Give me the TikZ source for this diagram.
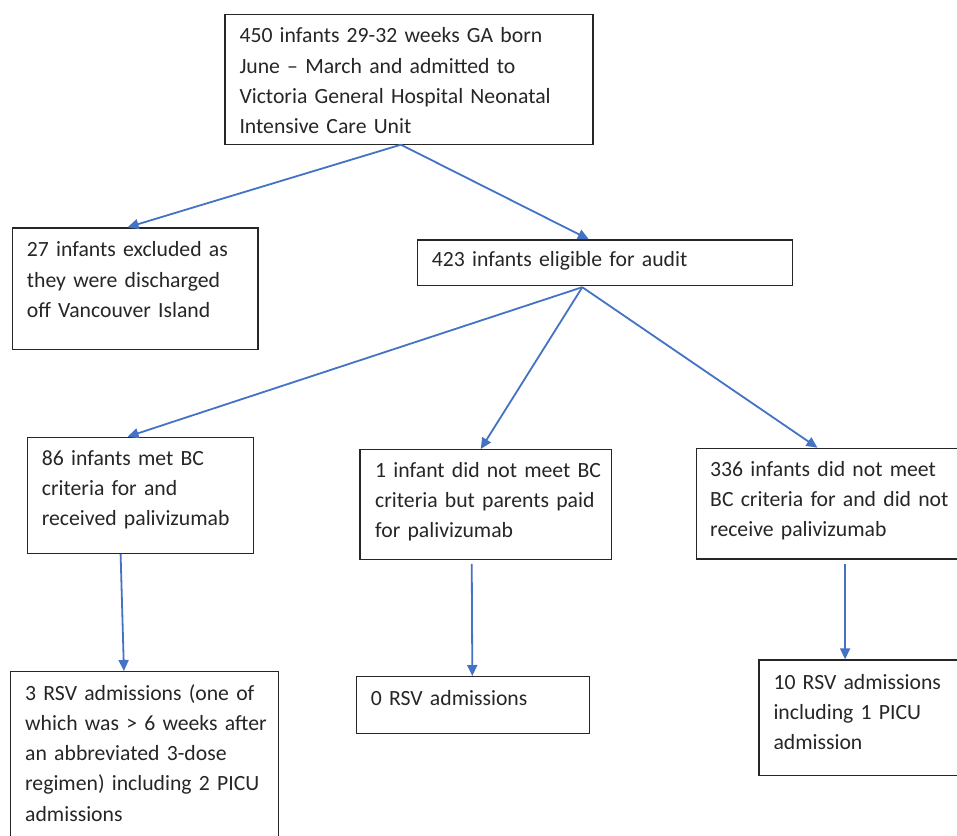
\documentclass[tikz,border=0pt]{standalone}
\usepackage{fontspec}
\setmainfont{Carlito}
\usetikzlibrary{arrows.meta,calc}
\definecolor{arrblue}{HTML}{4472C4}
\definecolor{ink}{HTML}{262626}
\begin{document}
\begin{tikzpicture}[x=1pt,y=-1pt,
  box/.style={draw=ink,line width=1.2pt,inner sep=0pt,anchor=north west},
  txt/.style={anchor=base west,inner sep=0pt,text width=#1,align=left,
    font=\fontsize{21.7}{30.3}\selectfont,text=ink},
  arr/.style={draw=arrblue,line width=1.8pt,-{Triangle[length=11pt,width=10pt]}}
]
\useasboundingbox (0,0) rectangle (957,835);
\fill[white] (0,0) rectangle (957,835);

% boxes
\node[box,minimum width=368pt,minimum height=129.5pt] (top) at (224.3,14) {};
\node[box,minimum width=245.6pt,minimum height=121.7pt] (excl) at (11.7,227.3) {};
\node[box,minimum width=375pt,minimum height=45.7pt] (elig) at (416.7,239.3) {};
\node[box,minimum width=226pt,minimum height=116pt] (A) at (26.5,436.7) {};
\node[box,minimum width=251.7pt,minimum height=109.7pt] (B) at (359.3,449) {};
\node[box,minimum width=260.7pt,minimum height=110.6pt] (C) at (696,447.7) {};
\node[box,minimum width=267.7pt,minimum height=180pt] (D) at (10,671) {};
\node[box,minimum width=233pt,minimum height=56.7pt] (E) at (355.7,676) {};
\node[box,minimum width=210pt,minimum height=115.7pt] (F) at (758.3,659.3) {};

% texts
\node[txt=360pt] (topt) at (239.3,42.7) {450 infants 29-32 weeks GA born\\June – March and admitted to\\Victoria General Hospital Neonatal\\Intensive Care Unit};
\node[txt=240pt] (exclt) at (26.7,256.7) {27 infants excluded as\\they were discharged\\off Vancouver Island};
\node[txt=360pt] (eligt) at (431.7,266.7) {423 infants eligible for audit};
\node[txt=220pt] (At) at (41.7,465) {86 infants met BC\\criteria for and\\received palivizumab};
\node[txt=250pt] (Bt) at (375,477) {1 infant did not meet BC\\criteria but parents paid\\for palivizumab};
\node[txt=250pt] (Ct) at (710,476) {336 infants did not meet\\BC criteria for and did not\\receive palivizumab};
\node[txt=260pt] (Dt) at (25,700) {3 RSV admissions (one of\\which was > 6 weeks after\\an abbreviated 3-dose\\regimen) including 2 PICU\\admissions};
\node[txt=230pt] (Et) at (370.7,705) {0 RSV admissions};
\node[txt=200pt] (Ft) at (773.3,689) {10 RSV admissions\\including 1 PICU\\admission};

% connectors
\draw[arr] ([xshift=-8pt]top.south) -- ([xshift=-7.5pt]excl.north);
\draw[arr] ([xshift=-8pt]top.south) -- ([xshift=-16pt]elig.north);
\draw[arr] ([xshift=-22.5pt,yshift=-1pt]elig.south) -- ([xshift=-12.5pt]A.north);
\draw[arr] ([xshift=-22.5pt,yshift=-1pt]elig.south) -- ([xshift=-5pt]B.north);
\draw[arr] ([xshift=-22.5pt,yshift=-1pt]elig.south) -- ([xshift=-9.5pt]C.north);
\draw[arr] ([xshift=-19.5pt]A.south) -- ([xshift=-20.5pt]D.north);
\draw[arr] ([xshift=-14pt,yshift=-4pt]B.south) -- ([xshift=-0.5pt]E.north);
\draw[arr] ([xshift=18pt,yshift=-4.5pt]C.south) -- ([xshift=-18.8pt]F.north);
\end{tikzpicture}
\end{document}
